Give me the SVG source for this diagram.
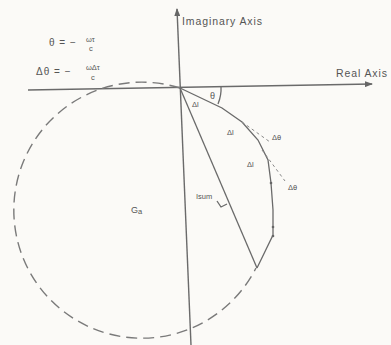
<svg xmlns="http://www.w3.org/2000/svg" width="391" height="345" viewBox="0 0 391 345">
<defs>
<marker id="ah" markerWidth="8" markerHeight="6" refX="7" refY="3" orient="auto" markerUnits="userSpaceOnUse">
<path d="M0,0 L8,3 L0,6 z" fill="#666"/>
</marker>
<style>
.ax{stroke:#6a6a6a;stroke-width:1.4;fill:none}
.ln{stroke:#6a6a6a;stroke-width:1.3;fill:none}
.ds{stroke:#7a7a7a;stroke-width:1.4;fill:none;stroke-dasharray:11 6}
.sd{stroke:#8a8a8a;stroke-width:1;fill:none;stroke-dasharray:3 3}
text{font-family:"Liberation Sans",Arial,sans-serif;fill:#555;font-size:9px}
.sm{font-size:7.5px}
.ttl{font-size:10.5px;letter-spacing:0.9px}
.eq{font-size:10px;letter-spacing:1px}
</style>
</defs>
<rect width="391" height="345" fill="#fbfaf7"/>
<g id="connectors">
<line id="real-axis" class="ax" x1="28" y1="90" x2="372" y2="84" marker-end="url(#ah)"/>
<line id="imag-axis" class="ax" x1="191" y1="345" x2="177" y2="9" marker-end="url(#ah)"/>
<path id="circle" class="ds" d="M180,88 A128,128 0 1 0 256,268"/>
<polyline id="spiral" class="ln" points="180,88 222,108 242,122 258,140 268,160 271,183 273,210 273,235 257,268"/>
<line id="isum" class="ln" x1="180" y1="88" x2="257" y2="268"/>
<line class="sd" x1="242" y1="122" x2="270" y2="142"/>
<line class="sd" x1="262" y1="150" x2="285" y2="181"/>
<path class="ln" d="M221,86 A41,41 0 0 1 218,104" stroke-width="1"/>
<path class="ln" d="M217,201 L221,207 L227,204" stroke-width="1"/>
<g fill="#666">
<circle cx="271" cy="183" r="1.3"/>
<circle cx="273" cy="227" r="1.3"/>
<circle cx="273" cy="236" r="1.3"/>
</g>
</g>
<g id="eq1">
<text x="49" y="46" class="eq">θ = −</text>
<text x="86" y="42" class="sm">ωτ</text>
<text x="89" y="51" class="sm">c</text>
</g>
<g id="eq2">
<text x="36" y="75" class="eq">Δθ = −</text>
<text x="86" y="70" class="sm">ωΔτ</text>
<text x="91" y="80" class="sm">c</text>
</g>
<g id="labels">
<text x="182" y="25" class="ttl">Imaginary Axis</text>
<text x="336" y="77" class="ttl">Real Axis</text>
<text x="210" y="99">θ</text>
<text x="192" y="107" class="sm">Δl</text>
<text x="227" y="135" class="sm">Δl</text>
<text x="272" y="140" class="sm">Δθ</text>
<text x="247" y="167" class="sm">Δl</text>
<text x="288" y="190" class="sm">Δθ</text>
<text x="196" y="199" class="sm">Isum</text>
<text x="131" y="213" font-size="10">G<tspan class="sm" dy="1">a</tspan></text>
</g>
</svg>
